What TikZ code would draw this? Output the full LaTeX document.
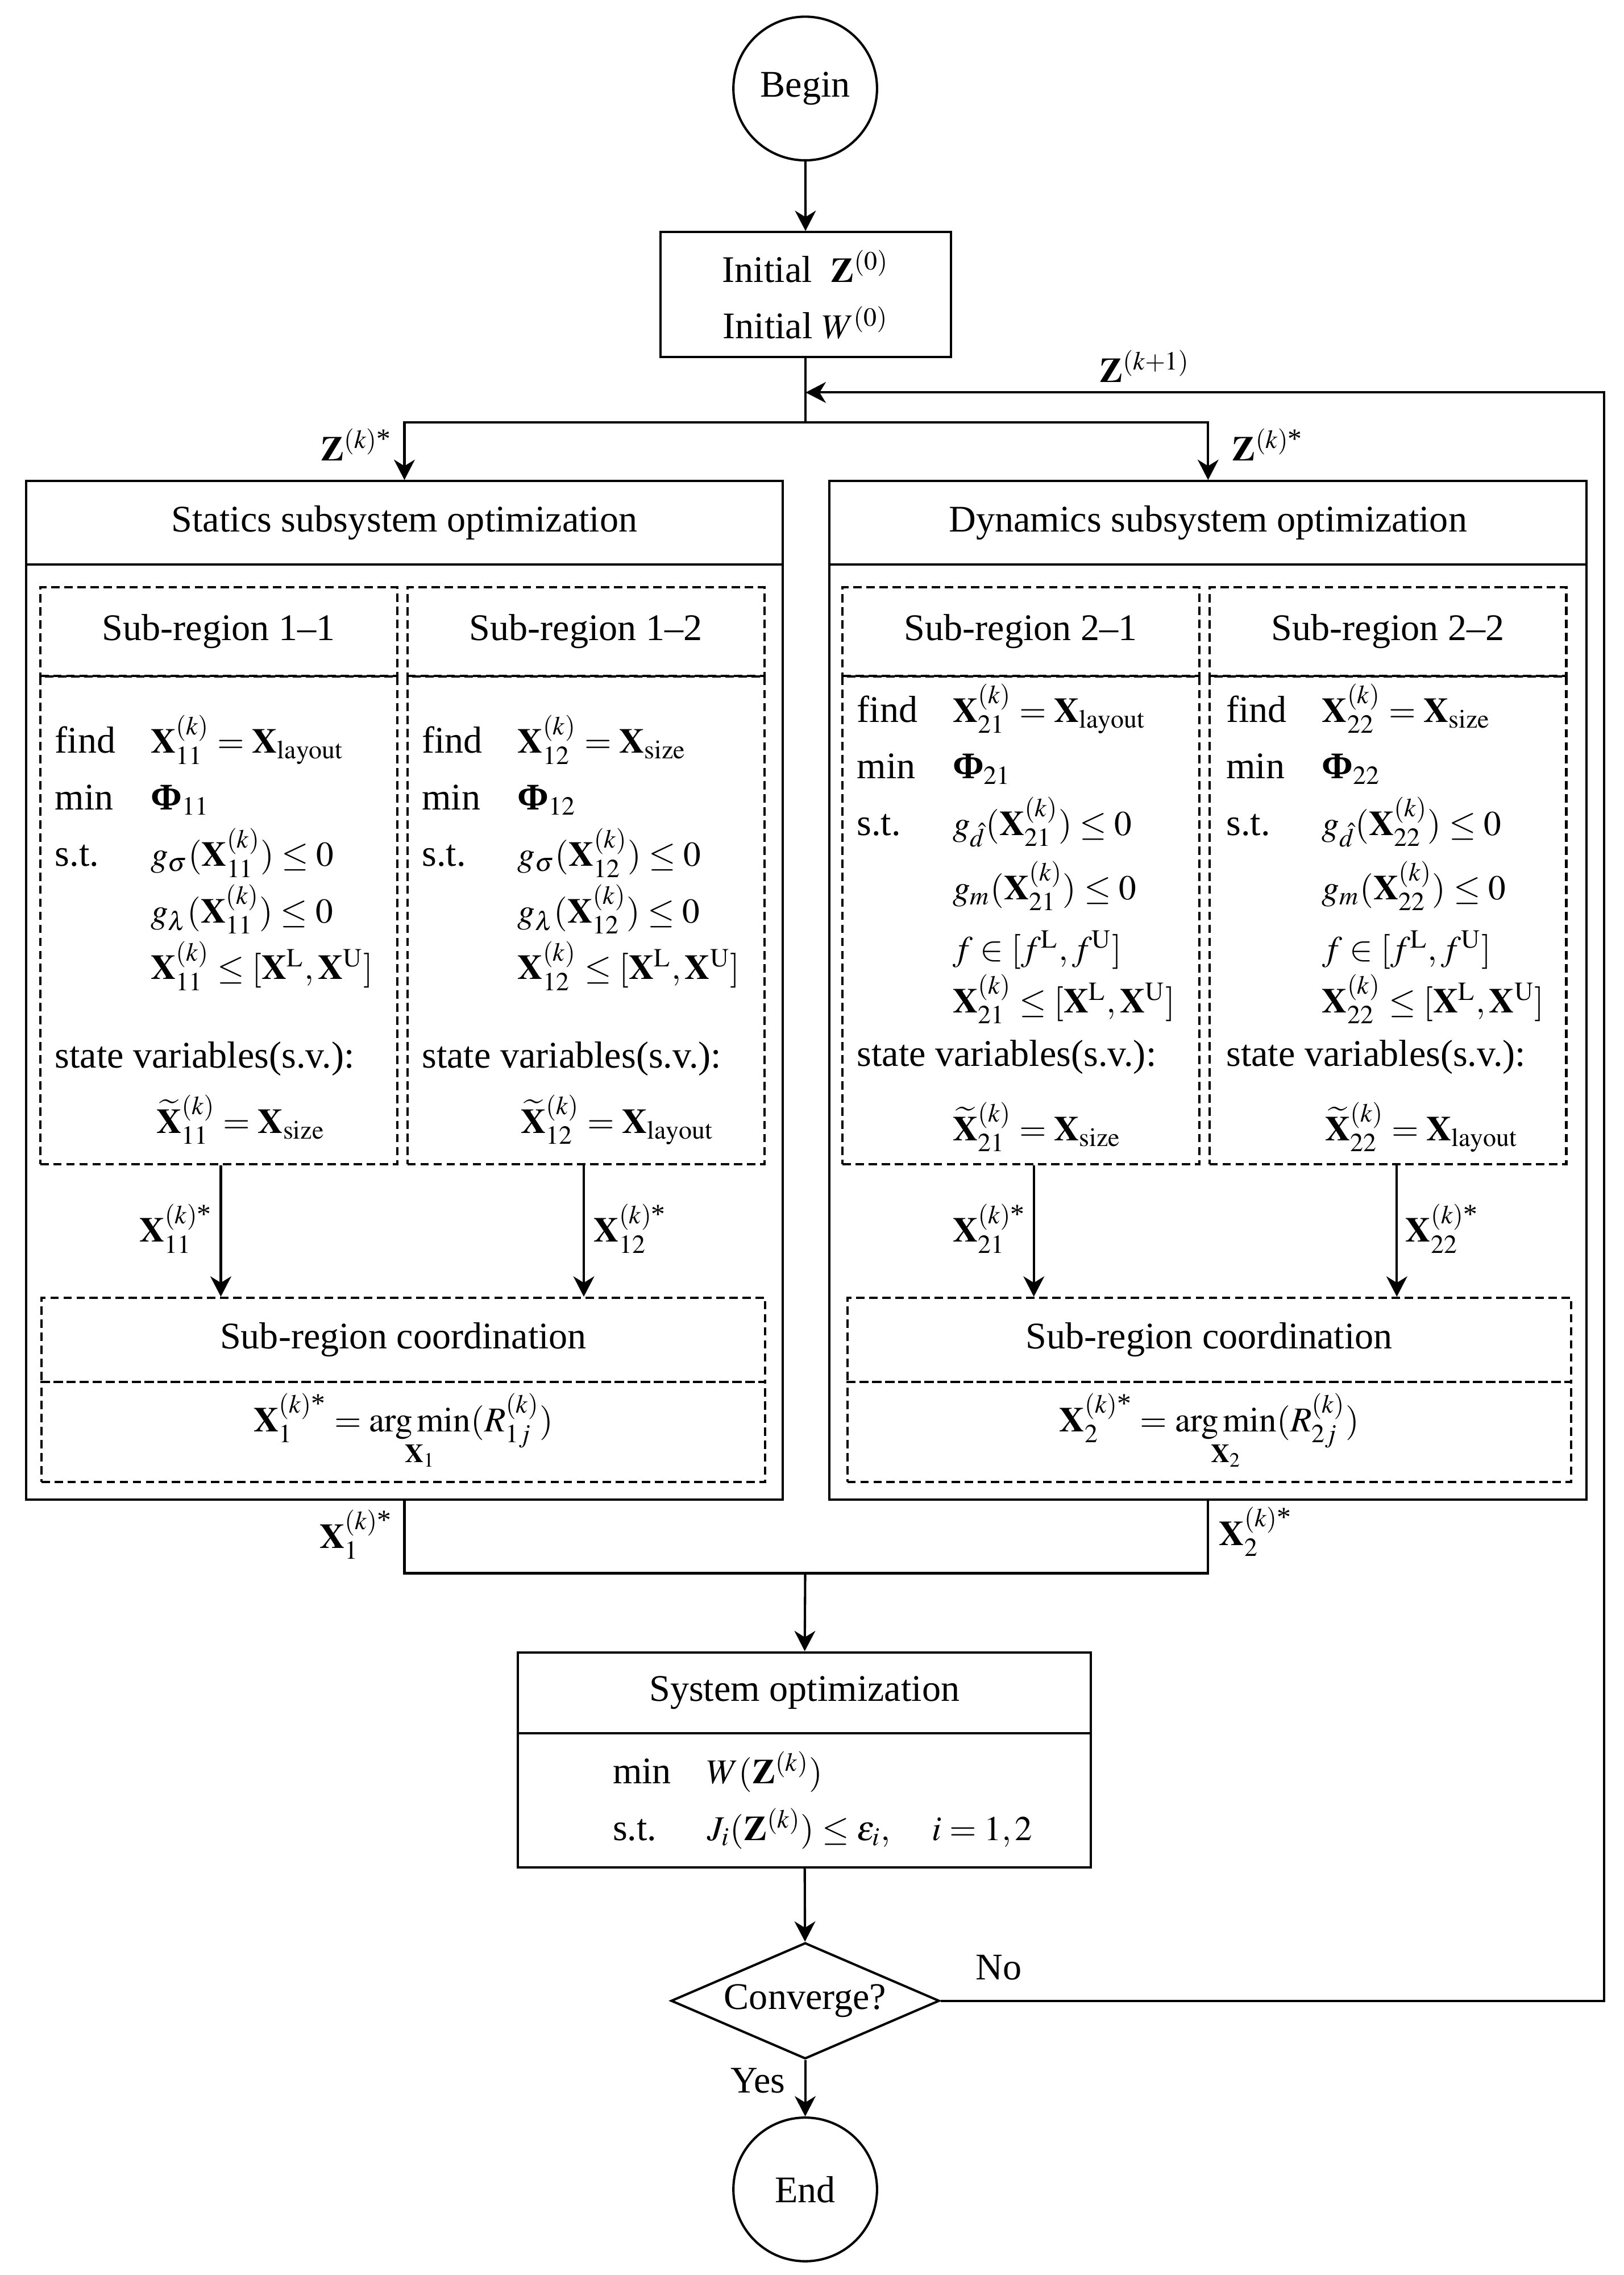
\documentclass[tikz,border=0pt]{standalone}
\usepackage{amsmath}
\usepackage{mathptmx}
\usepackage{fontspec}
\setmainfont{Liberation Serif}[Scale=1.08]
\usetikzlibrary{arrows.meta, positioning, shapes.geometric}
\newcommand{\bX}{\mathbf{X}}
\newcommand{\bZ}{\mathbf{Z}}
\newcommand{\bPhi}{\text{\bfseries Φ}}
\newcommand{\kst}{(k)\text{*}}
\newcommand{\rowlab}[1]{\makebox[33pt][l]{#1}}
\newcommand{\rowind}{\hspace*{33pt}}
\tikzset{
	flowbox/.style={draw, line width=0.8pt, inner sep=0pt, align=center},
	dashbox/.style={draw, line width=0.8pt, dash pattern=on 2.9pt off 1.6pt, inner sep=0pt, align=center},
	termnode/.style={draw, circle, line width=0.8pt, minimum size=49.5pt, inner sep=0pt},
	decnode/.style={draw, diamond, line width=0.8pt, minimum width=92.5pt, minimum height=40pt, aspect=2.3, inner sep=0pt},
	bodytext/.style={align=left, anchor=base west, inner sep=0pt, font={\fontsize{12}{19.5}\selectfont\lineskiplimit=-40pt}},
	varlabel/.style={inner sep=0pt},
	flowline/.style={line width=0.8pt},
	flowarr/.style={line width=0.8pt, -{Stealth[length=7pt, width=7.2pt, inset=2.2pt]}},
}

\begin{document}
\begin{tikzpicture}[x=0.5pt, y=-0.5pt, font=\fontsize{12}{14.4}\selectfont]
\useasboundingbox (0,0) rectangle (1119,1568);

% Start and initial values
\node[termnode] (begin) at (555,61) {Begin};
\node[flowbox, minimum width=100pt, minimum height=43pt] (init) at (555.3,203) {Initial\ \ $\bZ^{(0)}$\\[5pt]Initial $W^{(0)}$};

% Subsystem boxes
\node[flowbox, minimum width=260.75pt, minimum height=28.7pt] (stathead) at (278.75,360.3) {Statics subsystem optimization};
\node[flowbox, minimum width=260.75pt, minimum height=322.35pt] (statbody) at (278.75,711.35) {};
\node[flowbox, minimum width=260.9pt, minimum height=28.7pt] (dynhead) at (832.7,360.3) {Dynamics subsystem optimization};
\node[flowbox, minimum width=260.9pt, minimum height=322.35pt] (dynbody) at (832.7,711.35) {};

% Sub-regions
\node[dashbox, minimum width=123pt, minimum height=30.65pt] (h11) at (150.7,435.3) {Sub-region 1--1};
\node[dashbox, minimum width=123pt, minimum height=168pt] (b11) at (150.7,634.3) {};
\node[dashbox, minimum width=123pt, minimum height=30.65pt] (h12) at (403.8,435.3) {Sub-region 1--2};
\node[dashbox, minimum width=123pt, minimum height=168pt] (b12) at (403.8,634.3) {};
\node[dashbox, minimum width=123pt, minimum height=30.65pt] (h21) at (703.6,435.3) {Sub-region 2--1};
\node[dashbox, minimum width=123pt, minimum height=168pt] (b21) at (703.6,634.3) {};
\node[dashbox, minimum width=123pt, minimum height=30.65pt] (h22) at (956.6,435.3) {Sub-region 2--2};
\node[dashbox, minimum width=123pt, minimum height=168pt] (b22) at (956.6,634.3) {};

% Sub-region problems (anchored at the last baseline)
\node[bodytext] (t11) at (37.5,781) {\rowlab{find}$\bX^{(k)}_{11} = \bX_{\mathrm{layout}}$\\
	\rowlab{min}$\bPhi_{11}$\\
	\rowlab{s.t.}$g_{\sigma}(\bX^{(k)}_{11}) \le 0$\\
	\rowind$g_{\lambda}(\bX^{(k)}_{11}) \le 0$\\
	\rowind$\bX^{(k)}_{11} \le [\bX^{\mathrm{L}}, \bX^{\mathrm{U}}]$\\[11pt]
	state variables(s.v.):\\[3pt]
	\rowind\hspace*{2pt}$\widetilde{\bX}^{(k)}_{11} = \bX_{\mathrm{size}}$};
\node[bodytext] (t12) at (290.5,781) {\rowlab{find}$\bX^{(k)}_{12} = \bX_{\mathrm{size}}$\\
	\rowlab{min}$\bPhi_{12}$\\
	\rowlab{s.t.}$g_{\sigma}(\bX^{(k)}_{12}) \le 0$\\
	\rowind$g_{\lambda}(\bX^{(k)}_{12}) \le 0$\\
	\rowind$\bX^{(k)}_{12} \le [\bX^{\mathrm{L}}, \bX^{\mathrm{U}}]$\\[11pt]
	state variables(s.v.):\\[3pt]
	\rowind\hspace*{1pt}$\widetilde{\bX}^{(k)}_{12} = \bX_{\mathrm{layout}}$};
\node[bodytext] (t21) at (590.3,786) {\rowlab{find}$\bX^{(k)}_{21} = \bX_{\mathrm{layout}}$\\
	\rowlab{min}$\bPhi_{21}$\\
	\rowlab{s.t.}$g_{\hat{d}}(\bX^{(k)}_{21}) \le 0$\\[2.7pt]
	\rowind$g_{m}(\bX^{(k)}_{21}) \le 0$\\[1.5pt]
	\rowind$f \in [f^{\mathrm{L}}, f^{\mathrm{U}}]$\\[-1.5pt]
	\rowind$\bX^{(k)}_{21} \le [\bX^{\mathrm{L}}, \bX^{\mathrm{U}}]$\\[-1pt]
	state variables(s.v.):\\[6pt]
	\rowind$\widetilde{\bX}^{(k)}_{21} = \bX_{\mathrm{size}}$};
\node[bodytext] (t22) at (844.9,786) {\rowlab{find}$\bX^{(k)}_{22} = \bX_{\mathrm{size}}$\\
	\rowlab{min}$\bPhi_{22}$\\
	\rowlab{s.t.}$g_{\hat{d}}(\bX^{(k)}_{22}) \le 0$\\[2.7pt]
	\rowind$g_{m}(\bX^{(k)}_{22}) \le 0$\\[1.5pt]
	\rowind$f \in [f^{\mathrm{L}}, f^{\mathrm{U}}]$\\[-1.5pt]
	\rowind$\bX^{(k)}_{22} \le [\bX^{\mathrm{L}}, \bX^{\mathrm{U}}]$\\[-1pt]
	state variables(s.v.):\\[6pt]
	\rowind\hspace*{1pt}$\widetilde{\bX}^{(k)}_{22} = \bX_{\mathrm{layout}}$};

% Sub-region coordination
\node[dashbox, minimum width=249.5pt, minimum height=29pt] (c1head) at (278,923.5) {Sub-region coordination};
\node[dashbox, minimum width=249.5pt, minimum height=34.5pt] (c1body) at (278,987) {$\bX_1^{\kst} = \mathop{\mathrm{arg\,min}}\limits_{\bX_1}(R_{1j}^{(k)})$};
\node[dashbox, minimum width=249.5pt, minimum height=29pt] (c2head) at (833.5,923.5) {Sub-region coordination};
\node[dashbox, minimum width=249.5pt, minimum height=34.5pt] (c2body) at (833.5,987) {$\bX_2^{\kst} = \mathop{\mathrm{arg\,min}}\limits_{\bX_2}(R_{2j}^{(k)})$};

% System level
\node[flowbox, minimum width=197.5pt, minimum height=27.85pt] (syshead) at (554.5,1166.7) {System optimization};
\node[flowbox, minimum width=197.5pt, minimum height=46.2pt] (sysbody) at (554.5,1240.8) {};
\node[bodytext, font={\fontsize{12}{19.5}\selectfont}] (tsys) at (422,1268.4) {\makebox[32.5pt][l]{min}$W(\bZ^{(k)})$\\
	\makebox[32.5pt][l]{s.t.}$J_i(\bZ^{(k)}) \le \varepsilon_i,\quad i=1,2$};
\node[decnode] (conv) at (555,1379) {Converge?};
\node[termnode] (end) at (555,1509) {End};

% Variable labels
\node[varlabel, anchor=base west] (zloop) at (757.5,263.5) {$\bZ^{(k+1)}$};
\node[varlabel, anchor=base east] (zleft) at (270.5,317.7) {$\bZ^{\kst}$};
\node[varlabel, anchor=base west] (zright) at (849,317.7) {$\bZ^{\kst}$};
\node[varlabel, anchor=base east] (x11) at (147,856) {$\bX_{11}^{\kst}$};
\node[varlabel, anchor=base west] (x12) at (409,856) {$\bX_{12}^{\kst}$};
\node[varlabel, anchor=base east] (x21) at (707.5,856) {$\bX_{21}^{\kst}$};
\node[varlabel, anchor=base west] (x22) at (968.5,856) {$\bX_{22}^{\kst}$};
\node[varlabel, anchor=base east] (x1) at (271,1067) {$\bX_{1}^{\kst}$};
\node[varlabel, anchor=base west] (x2) at (840,1065) {$\bX_{2}^{\kst}$};
\node[varlabel] (no) at (688.5,1356) {No};
\node[varlabel] (yes) at (522.5,1434) {Yes};

% Arrows
\coordinate (fork) at (555.3,291);
\coordinate (loopin) at (555.3,270.5);
\coordinate (loopcorner) at (1105.5,270.5);
\coordinate (merge) at (555,1084.3);
\coordinate (a11) at ([xshift=0.75pt]b11.south);
\coordinate (a12) at ([xshift=-0.7pt]b12.south);
\coordinate (a21) at ([xshift=4.5pt]b21.south);
\coordinate (a22) at ([xshift=3.1pt]b22.south);
\draw[flowarr] (begin) -- (init);
\draw[flowline] (init) -- (fork);
\draw[flowarr] (fork) -| (stathead);
\draw[flowarr] (fork) -| (dynhead);
\draw[flowarr] (a11) -- (a11 |- c1head.north);
\draw[flowarr] (a12) -- (a12 |- c1head.north);
\draw[flowarr] (a21) -- (a21 |- c2head.north);
\draw[flowarr] (a22) -- (a22 |- c2head.north);
\draw[flowline] (statbody.south) |- (merge) -| (dynbody.south);
\draw[flowarr] (merge) -- (syshead);
\draw[flowarr] (sysbody) -- (conv);
\draw[flowarr] (conv) -- (end);
\draw[flowarr] (conv.east) -| (loopcorner) -- (loopin);
\end{tikzpicture}
\end{document}
